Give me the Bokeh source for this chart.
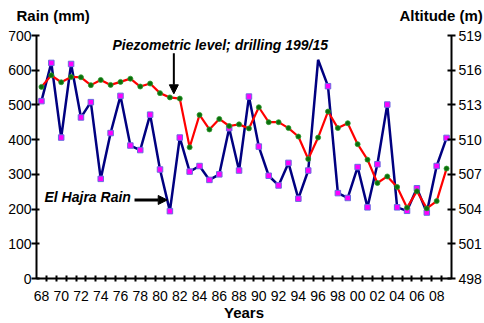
from bokeh.plotting import figure
from bokeh.layouts import column
from bokeh.models import (Range1d, LinearAxis, FixedTicker, Label, Arrow, NormalHead,
                          ColumnDataSource, CDSView, IndexFilter)
from bokeh.embed import file_html
from bokeh.resources import INLINE

# ---- data ----
years = list(range(1968, 2010))
rain_mm = [511, 621, 406, 618, 464, 508, 287, 419, 526, 383,
           370, 472, 314, 194, 406, 308, 324, 284, 300, 433,
           311, 524, 380, 296, 268, 333, 230, 311, 630, 554,
           246, 232, 321, 205, 329, 501, 205, 195, 260, 190,
           324, 405]
piezo_m = [514.56, 515.56, 514.96, 515.42, 515.39, 514.71, 515.16, 514.73, 514.99, 515.27,
           514.59, 514.85, 514.02, 513.65, 513.55, 509.34, 512.14, 510.88, 511.79, 511.18,
           511.32, 510.97, 512.80, 511.51, 511.51, 511.00, 510.27, 508.33, 510.18, 512.43,
           511.00, 511.42, 509.61, 508.27, 506.25, 506.82, 505.91, 504.12, 505.54, 504.06,
           504.69, 507.50]
label_years = list(range(1968, 2009, 2))
year_labels = {y: "%02d" % (y % 100) for y in label_years}
rain_ticks = list(range(0, 701, 100))
alt_ticks = list(range(498, 520, 3))
no_marker_idx = [28]  # 1996 peak drawn without marker

FONT = "Liberation Sans"
TTL = dict(text_font=FONT, text_font_size="15px", text_font_style="bold", text_color="black")

# ---- header strip with the two axis titles ----
head = figure(width=484, height=27, x_range=Range1d(0, 484), y_range=Range1d(0, 27),
              x_axis_type=None, y_axis_type=None, output_backend="svg",
              toolbar_location=None, min_border=0)
head.frame_align = False
head.outline_line_color = None
head.xgrid.visible = False
head.ygrid.visible = False
head.add_layout(Label(x=16, y=3.7, text="Rain (mm)", **TTL))
head.add_layout(Label(x=399, y=3.7, text="Altitude (m)", **TTL))

# ---- main chart ----
p = figure(width=484, height=296,
           x_range=Range1d(1967.5, 2009.5), y_range=Range1d(0, 700),
           output_backend="svg", toolbar_location=None,
           min_border_left=36, min_border_right=33, min_border_top=8, min_border_bottom=42)
p.frame_align = False
p.extra_y_ranges = {"alt": Range1d(498, 519)}
p.xgrid.visible = False
p.ygrid.visible = False
p.outline_line_color = None

# x axis
xa = p.xaxis[0]
xa.ticker = FixedTicker(ticks=label_years, minor_ticks=[y + 0.5 for y in range(1968, 2009)])
xa.major_label_overrides = year_labels
xa.major_tick_in = 0
xa.major_tick_out = 0
xa.minor_tick_in = 3
xa.minor_tick_out = 3
xa.minor_tick_line_color = "black"
xa.minor_tick_line_width = 2
xa.axis_line_width = 2
xa.axis_line_color = "black"
xa.major_label_standoff = 9
xa.major_label_text_font = FONT
xa.major_label_text_font_size = "14px"
xa.major_label_text_color = "black"
xa.axis_label = "Years"
xa.axis_label_standoff = 0
xa.axis_label_text_font = FONT
xa.axis_label_text_font_size = "15px"
xa.axis_label_text_font_style = "bold"
xa.axis_label_text_color = "black"

# left axis
ya = p.yaxis[0]
ya.ticker = FixedTicker(ticks=rain_ticks)
ya.major_tick_in = 3
ya.major_tick_out = 5
ya.minor_tick_in = 0
ya.minor_tick_out = 0
ya.major_tick_line_width = 2
ya.major_tick_line_color = "black"
ya.axis_line_width = 2
ya.axis_line_color = "black"
ya.major_label_standoff = 0
ya.major_label_text_font = FONT
ya.major_label_text_font_size = "14px"
ya.major_label_text_color = "black"

# right axis
ra = LinearAxis(y_range_name="alt", ticker=FixedTicker(ticks=alt_ticks))
ra.major_tick_in = 4
ra.major_tick_out = 4
ra.minor_tick_in = 0
ra.minor_tick_out = 0
ra.major_tick_line_width = 2
ra.major_tick_line_color = "black"
ra.axis_line_width = 2
ra.axis_line_color = "black"
ra.major_label_standoff = 3
ra.major_label_text_font = FONT
ra.major_label_text_font_size = "14px"
ra.major_label_text_color = "black"
p.add_layout(ra, "right")

# rain series
src_rain = ColumnDataSource(dict(x=years, y=rain_mm))
p.line("x", "y", source=src_rain, line_color="#000080", line_width=2.5)
marker_idx = [i for i in range(len(years)) if i not in no_marker_idx]
p.scatter("x", "y", source=src_rain, view=CDSView(filter=IndexFilter(marker_idx)),
          marker="square", size=5.5, fill_color="#FF00FF", line_color="#6a6ae0", line_width=1)

# piezometric series
src_p = ColumnDataSource(dict(x=years, y=piezo_m))
p.line("x", "y", source=src_p, y_range_name="alt", line_color="#FF0000", line_width=2.2)
p.scatter("x", "y", source=src_p, y_range_name="alt", marker="circle", size=5,
          fill_color="#0b6e0b", line_color="#2f9a2f", line_width=0.8)

# annotations
TXT = dict(text_font=FONT, text_font_size="14px", text_font_style="bold italic", text_color="black")
p.add_layout(Label(x=1975.19, y=651, text="Piezometric level; drilling 199/15", **TXT))
p.add_layout(Label(x=1968.31, y=210.6, text="El Hajra Rain", **TXT))
p.add_layout(Arrow(end=NormalHead(size=9, fill_color="black", line_color="black"),
                   x_start=1981.40, y_start=648.8, x_end=1981.40, y_end=532,
                   line_width=2, line_color="black"))
p.add_layout(Arrow(end=NormalHead(size=9, fill_color="black", line_color="black"),
                   x_start=1977.42, y_start=226.2, x_end=1980.73, y_end=226.2,
                   line_width=3, line_color="black"))

layout = column(head, p, spacing=0)
open("out.html", "w").write(file_html(layout, INLINE))
